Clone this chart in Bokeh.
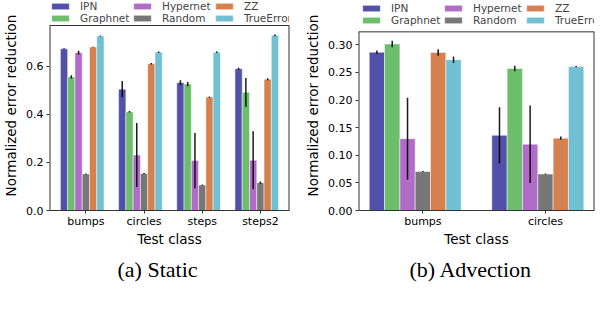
from bokeh.plotting import figure
from bokeh.layouts import row
from bokeh.models import Legend, LegendItem, FixedTicker, Title, Range1d
from bokeh.embed import file_html
from bokeh.resources import INLINE

# ---------------- data ----------------
series = ["IPN", "Graphnet", "Hypernet", "Random", "ZZ", "TrueError"]
colors = ["#5151a9", "#6cbd6c", "#b06cc6", "#777777", "#d6804f", "#72c0d3"]
legend_order = [0, 2, 4, 1, 3, 5]  # column-major reading like the reference

static_classes = ["bumps", "circles", "steps", "steps2"]
static_ipn = [0.673, 0.505, 0.532, 0.590]
static_graphnet = [0.556, 0.411, 0.526, 0.492]
static_hypernet = [0.657, 0.231, 0.208, 0.209]
static_random = [0.152, 0.154, 0.106, 0.116]
static_zz = [0.680, 0.611, 0.472, 0.546]
static_trueerror = [0.726, 0.659, 0.659, 0.729]
static_ipn_err = [0.002, 0.034, 0.010, 0.004]
static_graphnet_err = [0.007, 0.003, 0.009, 0.060]
static_hypernet_err = [0.008, 0.133, 0.115, 0.121]
static_random_err = [0.002, 0.002, 0.002, 0.005]
static_zz_err = [0.002, 0.003, 0.003, 0.004]
static_trueerror_err = [0.002, 0.003, 0.003, 0.004]

adv_classes = ["bumps", "circles"]
adv_ipn = [0.2865, 0.136]
adv_graphnet = [0.3015, 0.257]
adv_hypernet = [0.130, 0.120]
adv_random = [0.0705, 0.066]
adv_zz = [0.286, 0.131]
adv_trueerror = [0.273, 0.2605]
adv_ipn_err = [0.003, 0.051]
adv_graphnet_err = [0.006, 0.005]
adv_hypernet_err = [0.074, 0.070]
adv_random_err = [0.001, 0.001]
adv_zz_err = [0.006, 0.003]
adv_trueerror_err = [0.006, 0.001]

static_ticks = [0.0, 0.2, 0.4, 0.6]
adv_ticks = [0.0, 0.05, 0.10, 0.15, 0.20, 0.25, 0.30]

BAR_W = 0.125
SANS = "DejaVu Sans"
EDGE = "#333333"


def make_panel(classes, values, errors, yticks, ymax, caption, fmt,
               width, height, frame_w, frame_h, box_h, border_left,
               legend_margin, cap_offset):
    n = len(classes)
    idx = list(range(n))
    span_lo = -3 * BAR_W - BAR_W / 2
    span_hi = (n - 1) + 2 * BAR_W + BAR_W / 2
    margin = 0.05 * (span_hi - span_lo)
    box_lo, box_hi = span_lo - margin, span_hi + margin
    # the frame reaches up to the top of the canvas so the legend can sit
    # above the axes box; the box itself ends at ymax
    y_end = ymax * frame_h / box_h
    p = figure(output_backend="svg", toolbar_location=None,
               width=width, height=height,
               x_range=Range1d(box_lo, box_hi),
               y_range=Range1d(0, y_end),
               min_border_left=border_left, min_border_top=0,
               min_border_bottom=height - frame_h,
               min_border_right=width - border_left - frame_w)
    p.grid.visible = False
    p.outline_line_color = None
    p.background_fill_color = "white"

    renderers = []
    for k, (name, col) in enumerate(zip(series, colors)):
        xs = [i + (k - 3) * BAR_W for i in idx]
        r = p.vbar(x=xs, top=values[k], width=BAR_W, bottom=0,
                   fill_color=col, line_color="white", line_width=0.8,
                   line_alpha=0.6)
        renderers.append(r)
    for k in range(len(series)):
        xs = [i + (k - 3) * BAR_W for i in idx]
        y0 = [v - e for v, e in zip(values[k], errors[k])]
        y1 = [v + e for v, e in zip(values[k], errors[k])]
        p.segment(x0=xs, x1=xs, y0=y0, y1=y1, line_color="black",
                  line_width=1.5, line_alpha=0.9)

    # axes box: left/right sides (half clipped by the frame) and top side
    p.segment(x0=[box_lo, box_hi], x1=[box_lo, box_hi], y0=[0, 0],
              y1=[ymax, ymax], line_color=EDGE, line_width=2)
    p.segment(x0=[box_lo], x1=[box_hi], y0=[ymax], y1=[ymax],
              line_color=EDGE, line_width=1)

    # axes
    p.xaxis.ticker = FixedTicker(ticks=idx)
    p.xaxis.major_label_overrides = {i: c for i, c in enumerate(classes)}
    p.xaxis.axis_label = "Test class"
    p.yaxis.ticker = FixedTicker(ticks=yticks)
    p.yaxis.major_label_overrides = {t: fmt.format(t) for t in yticks}
    p.yaxis.axis_label = "Normalized error reduction"
    for ax in (p.xaxis[0], p.yaxis[0]):
        ax.minor_tick_line_color = None
        ax.axis_line_color = EDGE
        ax.major_tick_line_color = EDGE
        ax.major_tick_in = 0
        ax.major_tick_out = 3
        ax.major_label_text_font = SANS
        ax.major_label_text_font_size = "11px"
        ax.major_label_text_color = "black"
        ax.axis_label_text_font = SANS
        ax.axis_label_text_font_size = "13.5px"
        ax.axis_label_text_font_style = "normal"
        ax.axis_label_text_color = "black"
    p.yaxis.axis_line_color = None
    p.xaxis.major_label_standoff = 1
    p.xaxis.axis_label_standoff = 0
    p.yaxis.major_label_standoff = 3
    p.yaxis.axis_label_standoff = 4

    items = [LegendItem(label=series[k], renderers=[renderers[k]])
             for k in legend_order]
    legend = Legend(items=items, orientation="horizontal", ncols=3,
                    location="top_left", padding=0, margin=legend_margin,
                    spacing=0, glyph_width=22, glyph_height=8,
                    label_height=11, label_width=51, label_standoff=9,
                    label_text_font=SANS, label_text_font_size="10.5px",
                    border_line_color=None, background_fill_alpha=0)
    p.add_layout(legend, "center")

    cap = Title(text=caption, align="left", text_font="Liberation Serif",
                text_font_size="22px", text_font_style="normal",
                text_color="black", offset=cap_offset, standoff=11)
    p.add_layout(cap, "below")
    return p


static_values = [static_ipn, static_graphnet, static_hypernet, static_random,
                 static_zz, static_trueerror]
static_errors = [static_ipn_err, static_graphnet_err, static_hypernet_err,
                 static_random_err, static_zz_err, static_trueerror_err]
adv_values = [adv_ipn, adv_graphnet, adv_hypernet, adv_random, adv_zz,
              adv_trueerror]
adv_errors = [adv_ipn_err, adv_graphnet_err, adv_hypernet_err,
              adv_random_err, adv_zz_err, adv_trueerror_err]

p1 = make_panel(static_classes, static_values, static_errors, static_ticks,
                0.77, "(a) Static", "{:.1f}", 302, 293, 248, 210, 185, 41,
                0, 68)
p2 = make_panel(adv_classes, adv_values, adv_errors, adv_ticks,
                0.3234, "(b) Advection", "{:.2f}", 293, 293, 236, 211, 179.5,
                56, 2, 51)

layout = row(p1, p2, spacing=0)
open("out.html", "w").write(file_html(layout, INLINE))
